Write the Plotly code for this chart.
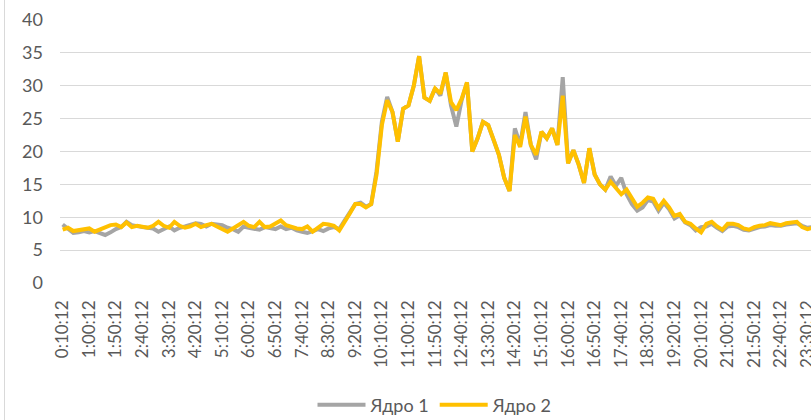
import plotly.graph_objects as go

# Time labels: every 10 minutes starting at 0:10:12
start_minutes = 10
n_points = 143
times = []
for k in range(n_points):
    m = start_minutes + 10 * k
    times.append(f"{m // 60}:{m % 60:02d}:12")

core1 = [
    8.9, 8.2, 7.6, 7.7, 7.9, 7.7, 7.9, 7.6, 7.3, 7.7,
    8.2, 8.5, 9.3, 8.8, 8.6, 8.5, 8.4, 8.3, 7.8, 8.2,
    8.6, 8.0, 8.4, 8.6, 8.9, 9.1, 9.0, 8.6, 9.0, 8.9,
    8.8, 8.4, 8.2, 7.8, 8.6, 8.4, 8.3, 8.1, 8.5, 8.3,
    8.2, 8.6, 8.2, 8.4, 8.0, 7.8, 7.6, 7.9, 8.2, 7.9,
    8.3, 8.5, 8.2, 9.5, 10.8, 12.0, 12.2, 11.6, 12.0, 17.0,
    24.5, 28.3, 26.0, 21.5, 26.5, 27.0, 30.0, 34.5, 28.2, 27.7,
    29.6, 28.5, 32.0, 27.0, 23.8, 27.8, 30.5, 20.0, 22.0, 24.5,
    24.0, 21.8, 19.5, 16.0, 14.0, 23.5, 21.0, 26.0, 21.0, 18.8,
    23.0, 22.0, 23.5, 21.0, 31.3, 18.2, 20.2, 18.0, 15.2, 20.5,
    16.5, 15.0, 14.2, 16.2, 14.8, 16.0, 13.5, 12.0, 11.0, 11.5,
    12.6, 12.4, 11.0, 12.2, 11.2, 9.8, 10.3, 9.2, 8.8, 8.0,
    8.5, 8.6, 9.0, 8.4, 7.9, 8.6, 8.7, 8.5, 8.1, 8.0,
    8.3, 8.5, 8.6, 8.8, 8.7, 8.7, 8.9, 9.0, 9.1, 8.7,
    8.4, 8.5, 8.6,
]

core2 = [
    8.1, 8.4, 7.9, 8.0, 8.2, 8.3, 7.8, 8.1, 8.4, 8.8,
    8.9, 8.5, 9.2, 8.5, 8.7, 8.5, 8.4, 8.7, 9.3, 8.7,
    8.4, 9.3, 8.7, 8.4, 8.6, 9.0, 8.5, 8.8, 9.0, 8.6,
    8.2, 7.8, 8.3, 8.8, 9.3, 8.7, 8.5, 9.3, 8.5, 8.6,
    9.0, 9.5, 8.8, 8.5, 8.3, 8.2, 8.6, 7.8, 8.4, 9.0,
    8.9, 8.7, 8.0, 9.2, 10.6, 12.0, 12.0, 11.5, 12.0, 16.5,
    24.0, 27.8, 26.0, 21.5, 26.5, 27.0, 30.0, 34.5, 28.2, 27.7,
    29.6, 28.8, 32.0, 27.5, 26.3, 28.0, 30.5, 20.0, 22.0, 24.5,
    24.0, 21.8, 19.5, 16.0, 14.0, 22.5, 20.7, 25.3, 21.0, 19.5,
    23.0, 22.0, 23.5, 21.0, 28.5, 18.2, 20.2, 18.0, 15.2, 20.5,
    16.5, 15.0, 14.2, 15.4, 14.5, 13.5, 14.2, 13.0, 11.6, 12.2,
    13.0, 12.8, 11.4, 12.5, 11.5, 10.2, 10.5, 9.3, 9.0, 8.3,
    7.7, 9.0, 9.3, 8.6, 8.1, 9.0, 9.0, 8.8, 8.3, 8.1,
    8.5, 8.7, 8.8, 9.1, 8.9, 8.8, 9.1, 9.2, 9.3, 8.5,
    8.2, 8.4, 8.6,
]

series_names = ["Ядро 1", "Ядро 2"]
series_colors = ["#A5A5A5", "#FFC000"]

y_ticks = [0, 5, 10, 15, 20, 25, 30, 35, 40]

idx = list(range(n_points))
tick_idx = idx[::5]
tick_text = [times[i] for i in tick_idx]

W, H = 811, 420
L, R, T, B = 60, 0, 20, 137
plot_w = W - L - R
plot_h = H - T - B
px_per_pt = 5.32

fig = go.Figure()
for name, vals, col in zip(series_names, [core1, core2], series_colors):
    fig.add_trace(go.Scatter(
        x=idx, y=vals, mode="lines", name=name,
        line=dict(color=col, width=4, shape="linear"),
        hoverinfo="skip",
    ))

font_family = "Lato, 'Open Sans', sans-serif"
fig.update_layout(
    width=W, height=H,
    margin=dict(l=L, r=R, t=T, b=B, pad=0, autoexpand=False),
    paper_bgcolor="white", plot_bgcolor="white",
    font=dict(family=font_family, size=18, color="#595959"),
    showlegend=True,
    legend=dict(
        orientation="h", xref="container", yref="container",
        x=435 / W, xanchor="center",
        y=1 - 405 / H, yanchor="middle",
        font=dict(size=18, color="#595959"),
        itemwidth=48, tracegroupgap=0,
        bgcolor="rgba(0,0,0,0)",
    ),
    xaxis=dict(
        range=[-0.5, -0.5 + plot_w / px_per_pt],
        tickmode="array", tickvals=tick_idx, ticktext=tick_text,
        tickangle=-90, showgrid=False, zeroline=False, showline=False,
        ticks="", ticklabelstandoff=13, ticklabeloverflow="allow",
        tickfont=dict(size=17, color="#595959"),
        automargin=False, fixedrange=True,
    ),
    yaxis=dict(
        range=[0, 40], tickmode="array", tickvals=y_ticks,
        showgrid=True, gridcolor="#D9D9D9", gridwidth=1,
        zeroline=False, showline=False, ticks="",
        ticklabelstandoff=16,
        tickfont=dict(size=18, color="#595959"),
        automargin=False, fixedrange=True,
    ),
    shapes=[dict(
        type="line", xref="paper", yref="paper",
        x0=(4.5 - L) / plot_w, x1=(4.5 - L) / plot_w,
        y0=(283 - 0) / plot_h, y1=(283 - 420) / plot_h,
        line=dict(color="#D9D9D9", width=1),
    )],
)

fig.write_html(
    "out.html",
    config={"displayModeBar": False},
    post_script="document.body.style.margin='0';document.body.style.overflow='hidden';",
)
